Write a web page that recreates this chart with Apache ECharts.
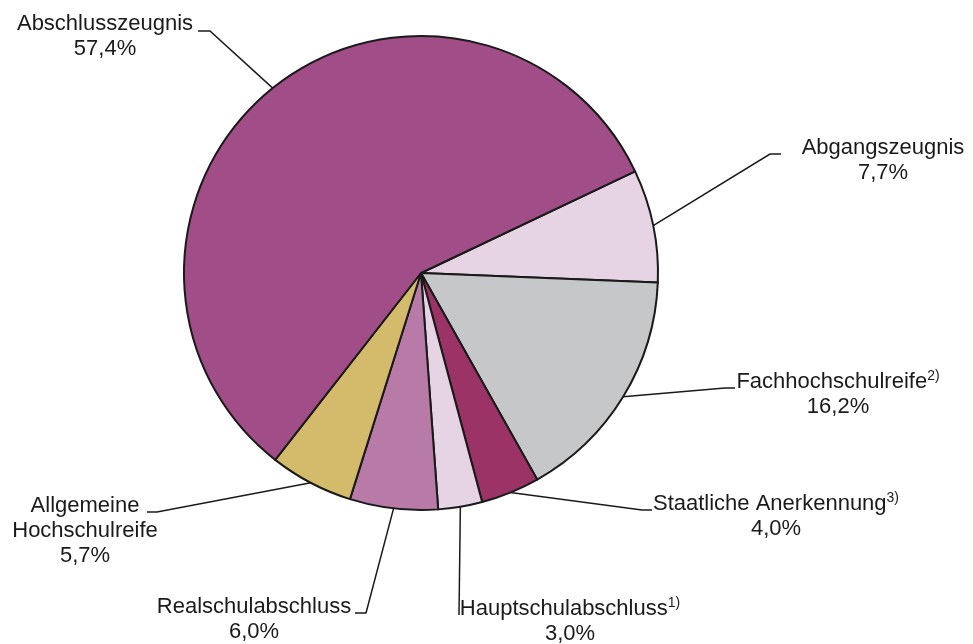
<!DOCTYPE html>
<html>
<head>
<meta charset="utf-8">
<script src="https://cdn.jsdelivr.net/npm/echarts@6/dist/echarts.min.js"></script>
<style>
html,body{margin:0;padding:0;background:#fff;}
#chart{width:973px;height:644px;}
</style>
</head>
<body>
<div id="chart"></div>
<script>
// Data (clockwise, starting at the upper right)
const categories = ['Abgangszeugnis', 'Fachhochschulreife', 'Staatliche Anerkennung', 'Hauptschulabschluss', 'Realschulabschluss', 'Allgemeine\nHochschulreife', 'Abschlusszeugnis'];
const footnotes = ['', '2)', '3)', '1)', '', '', ''];
const shares = [7.7, 16.2, 4.0, 3.0, 6.0, 5.7, 57.4];
const colors = ['#e6d4e4', '#c6c7c9', '#9b3366', '#e6d4e4', '#b87aa7', '#d3bb6b', '#a14d87'];

// Label placement (style)
const labelPos = [
  {x: 883, y: 160, hook: [[770, 154], [781, 154]]},
  {x: 838, y: 394, hook: [[725, 388], [735, 388]]},
  {x: 776, y: 516, hook: [[642, 510], [652, 510]]},
  {x: 570, y: 621, hook: [[459, 615], [459, 615]]},
  {x: 254, y: 619, hook: [[366, 613], [355, 613]]},
  {x: 85,  y: 531, hook: [[157, 512], [147, 512]]},
  {x: 105, y: 36,  hook: [[210, 31], [198, 31]]}
];

const fmt = v => v.toFixed(1).replace('.', ',') + '%';

const chart = echarts.init(document.getElementById('chart'), null, {renderer: 'canvas'});
const data = categories.map((c, i) => ({
  name: c,
  value: shares[i],
  itemStyle: {color: colors[i]}
}));

chart.setOption({
  animation: false,
  backgroundColor: '#ffffff',
  series: [{
    type: 'pie',
    center: [421, 273],
    radius: 237,
    startAngle: 25.4,
    clockwise: true,
    avoidLabelOverlap: false,
    data: data,
    itemStyle: {borderColor: '#1a1a1a', borderWidth: 2},
    label: {
      show: true,
      position: 'outside',
      formatter: p => {
        const i = p.dataIndex;
        const lines = categories[i].split('\n').map(s => '{n|' + s + '}');
        if (footnotes[i]) lines[lines.length - 1] += '{s|' + footnotes[i] + '}';
        lines.push('{n|' + fmt(shares[i]) + '}');
        return lines.join('\n');
      },
      rich: {
        n: {fontFamily: 'Liberation Sans, Arial, sans-serif', fontSize: 22, lineHeight: 25, color: '#1a1a1a'},
        s: {fontFamily: 'Liberation Sans, Arial, sans-serif', fontSize: 14, lineHeight: 20, color: '#1a1a1a', verticalAlign: 'top'}
      }
    },
    labelLine: {show: true, length: 20, length2: 10, lineStyle: {color: '#1a1a1a', width: 1.5}},
    labelLayout: function (params) {
      const lp = labelPos[params.dataIndex];
      const p0 = params.labelLinePoints ? params.labelLinePoints[0] : null;
      const out = {x: lp.x, y: lp.y, align: 'center', verticalAlign: 'middle'};
      if (p0) out.labelLinePoints = [p0, lp.hook[0], lp.hook[1]];
      return out;
    },
    emphasis: {disabled: true}
  }]
});
</script>
</body>
</html>
